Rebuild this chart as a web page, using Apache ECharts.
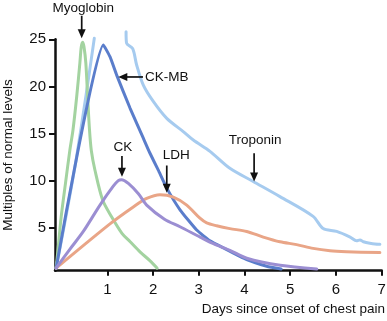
<!DOCTYPE html>
<html>
<head>
<meta charset="utf-8">
<script src="https://cdn.jsdelivr.net/npm/echarts@6/dist/echarts.min.js"></script>
<style>
  html, body { margin: 0; padding: 0; background: #ffffff; }
  #chart { width: 387px; height: 321px; }
</style>
</head>
<body>
<div id="chart"></div>
<script>
// Cardiac marker release after onset of chest pain (multiples of normal level)
const xTicks = [1, 2, 3, 4, 5, 6, 7];
const yTicks = [5, 10, 15, 20, 25];

const myoglobinDays   = [-0.12, -0.08, -0.01, 0.085, 0.18, 0.25, 0.33, 0.40, 0.43, 0.46, 0.49, 0.53, 0.57, 0.61, 0.65, 0.73, 0.90, 1.10, 1.32, 1.50, 1.72, 1.93, 2.09];
const myoglobinLevels = [0.7, 2.6, 6.1, 9.7, 13.2, 15.4, 18.9, 22.5, 24.2, 24.7, 24.2, 22.5, 18.9, 15.4, 13.2, 11.1, 7.9, 6.1, 4.4, 3.5, 2.4, 1.5, 0.7];

const troponinRiseDays   = [-0.12, 0.10, 0.315, 0.53, 0.715];
const troponinRiseLevels = [0.7, 6.3, 12.1, 18.9, 25.1];
const troponinFallDays   = [1.41, 1.42, 1.555, 1.64, 1.79, 2.005, 2.30, 2.66, 2.88, 3.245, 3.68, 4.19, 4.775, 5.50, 5.72, 6.015, 6.31, 6.45, 6.525, 6.60, 6.74, 6.925, 6.96];
const troponinFallLevels = [25.8, 24.6, 24.0, 22.3, 20.1, 18.4, 16.6, 15.2, 14.3, 13.1, 11.3, 9.9, 8.3, 6.2, 4.9, 4.6, 4.0, 3.6, 3.7, 3.5, 3.35, 3.25, 3.25];

const ckmbDays   = [-0.12, 0.912, 1.058, 1.205, 1.496, 1.787, 1.933, 2.115, 2.30, 2.59, 2.954, 3.245, 3.536, 4.048, 4.485, 4.80];
const ckmbLevels = [0.7, 24.4, 23.15, 21.2, 17.7, 14.5, 12.9, 11.1, 9.2, 6.9, 4.75, 3.6, 2.85, 1.6, 0.9, 0.6];

const ckDays   = [-0.12, 0.18, 0.475, 0.84, 1.13, 1.24, 1.31, 1.46, 1.68, 1.86, 2.25, 2.59, 3.03, 3.32, 3.68, 4.05, 4.78, 5.58];
const ckLevels = [0.7, 2.7, 4.6, 7.4, 9.4, 10.0, 10.1, 9.7, 8.6, 7.4, 5.9, 5.1, 4.0, 3.3, 2.6, 1.75, 1.0, 0.6];

const ldhDays   = [-0.12, 1.058, 1.568, 1.861, 2.152, 2.443, 2.736, 3.026, 3.173, 3.39, 3.68, 4.048, 4.41, 4.776, 5.14, 5.50, 5.87, 6.23, 6.96];
const ldhLevels = [0.7, 5.4, 7.2, 8.1, 8.5, 8.25, 7.4, 6.0, 5.5, 5.2, 4.9, 4.6, 4.0, 3.5, 3.2, 2.8, 2.55, 2.45, 2.35];

// Arrow annotations: label, arrow tip and tail in (day, level)
const annotationLabels = ['Myoglobin', 'CK-MB', 'CK', 'LDH', 'Troponin'];
const annotationTips   = [[0.44, 25.1], [1.24, 21.0], [1.32, 10.4], [2.30, 8.7], [4.21, 9.9]];
const annotationTails  = [[0.44, 27.5], [1.78, 21.0], [1.32, 12.6], [2.30, 11.6], [4.21, 12.9]];

// ---- layout / styling ----
const FONT = '"Liberation Sans", Arial, Helvetica, sans-serif';
const INK = '#111111';
const labelLayout = [
  { dx: 1.5, dy: -7.5, align: 'center' },
  { dx: 2,   dy: 0,    align: 'left'   },
  { dx: 1,   dy: -8.5, align: 'center' },
  { dx: -4,  dy: -10,  align: 'left'   },
  { dx: 1,   dy: -13,  align: 'center' }
];

const pairs = (xs, ys) => xs.map((x, i) => [x, ys[i]]);

function curve(name, xs, ys, color, smooth, z) {
  return {
    type: 'line',
    name: name,
    data: pairs(xs, ys),
    symbol: 'none',
    showSymbol: false,
    smooth: smooth,
    clip: false,
    silent: true,
    z: z,
    lineStyle: { color: color, width: 3, cap: 'round', join: 'round' },
    itemStyle: { color: color }
  };
}

const chart = echarts.init(document.getElementById('chart'), null, { renderer: 'canvas' });

chart.setOption({
  animation: false,
  backgroundColor: '#ffffff',
  grid: { left: 55, right: 5.3, top: 39.3, bottom: 50.3, containLabel: false, outerBoundsMode: 'none' },
  xAxis: {
    type: 'value',
    min: -0.144,
    max: 7,
    name: 'Days since onset of chest pain',
    nameLocation: 'middle',
    nameGap: 29,
    nameTextStyle: { fontFamily: FONT, fontSize: 13.5, color: INK, padding: [0, 0, 0, 150] },
    axisLine: { show: true, onZero: false, lineStyle: { color: INK, width: 2.5 } },
    axisTick: { show: true, customValues: xTicks, length: 5, lineStyle: { color: INK, width: 2 } },
    axisLabel: { customValues: xTicks, margin: 12, fontFamily: FONT, fontSize: 15, color: INK },
    splitLine: { show: false }
  },
  yAxis: {
    type: 'value',
    min: 0.43,
    max: 25,
    name: 'Multiples of normal levels',
    nameLocation: 'middle',
    nameGap: 40,
    nameRotate: 90,
    nameTextStyle: { fontFamily: FONT, fontSize: 13.5, color: INK },
    axisLine: { show: true, onZero: false, lineStyle: { color: INK, width: 2.5 } },
    axisTick: { show: true, customValues: yTicks, length: 6, lineStyle: { color: INK, width: 2 } },
    axisLabel: { customValues: yTicks, margin: 9, fontFamily: FONT, fontSize: 15, color: INK },
    splitLine: { show: false }
  },
  series: [
    curve('Troponin', troponinRiseDays, troponinRiseLevels, '#a6cbef', 0.2, 2),
    curve('Troponin', troponinFallDays, troponinFallLevels, '#a6cbef', 0.3, 2),
    curve('Myoglobin', myoglobinDays, myoglobinLevels, '#a3d3a0', 0.3, 3),
    curve('CK-MB', ckmbDays, ckmbLevels, '#5a7dcb', 0.15, 4),
    curve('LDH', ldhDays, ldhLevels, '#e9a587', 0.3, 5),
    curve('CK', ckDays, ckLevels, '#9b8ed2', 0.3, 6)
  ]
});

// Arrows and their labels, positioned through the grid's coordinate system
function annotationGraphics() {
  const els = [];
  annotationLabels.forEach((text, i) => {
    const tip = chart.convertToPixel({ gridIndex: 0 }, annotationTips[i]);
    const tail = chart.convertToPixel({ gridIndex: 0 }, annotationTails[i]);
    const dx = tip[0] - tail[0], dy = tip[1] - tail[1];
    const len = Math.hypot(dx, dy);
    const ux = dx / len, uy = dy / len;
    const headLen = 9, headHalf = 4;
    const bx = tip[0] - ux * headLen, by = tip[1] - uy * headLen;
    els.push({
      type: 'line', silent: true, z: 20,
      shape: { x1: tail[0], y1: tail[1], x2: bx + ux, y2: by + uy },
      style: { stroke: INK, lineWidth: 1.7 }
    });
    els.push({
      type: 'polygon', silent: true, z: 20,
      shape: { points: [[tip[0], tip[1]], [bx - uy * headHalf, by + ux * headHalf], [bx + uy * headHalf, by - ux * headHalf]] },
      style: { fill: INK }
    });
    const lay = labelLayout[i];
    els.push({
      type: 'text', silent: true, z: 20,
      x: tail[0] + lay.dx, y: tail[1] + lay.dy,
      style: {
        text: text, fill: INK, font: '13.5px ' + FONT,
        align: lay.align, verticalAlign: 'middle',
        textAlign: lay.align, textVerticalAlign: 'middle'
      }
    });
  });
  return els;
}

chart.setOption({ graphic: { elements: annotationGraphics() } });
</script>
</body>
</html>
